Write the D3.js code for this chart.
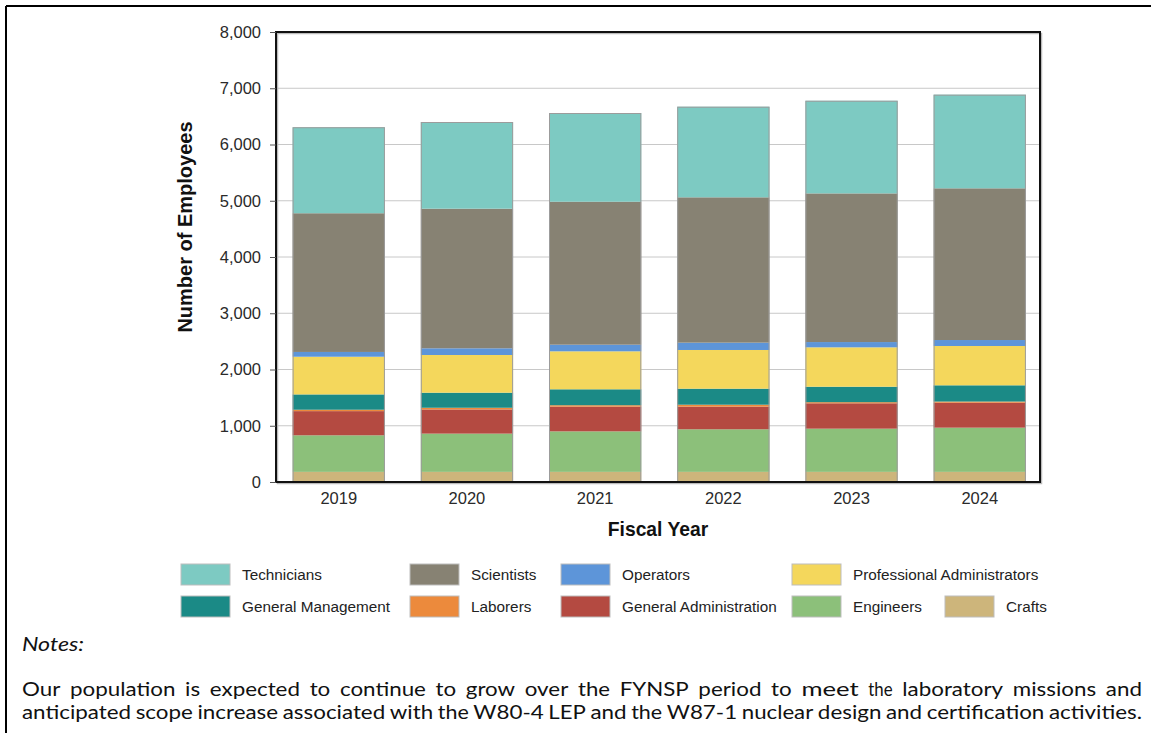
<!DOCTYPE html>
<html>
<head>
<meta charset="utf-8">
<script src="https://cdn.jsdelivr.net/npm/d3@7"></script>
<style>
  html, body { margin: 0; padding: 0; background: #fff; }
  svg { display: block; }
</style>
</head>
<body>
<svg id="chart" width="1151" height="733"></svg>
<script>
// ---- Data ----
const years = ["2019", "2020", "2021", "2022", "2023", "2024"];
const seriesNames = ["Crafts", "Engineers", "General Administration", "Laborers",
  "General Management", "Professional Administrators", "Operators", "Scientists", "Technicians"];
const crafts          = [180, 180, 180, 180, 180, 180];
const engineers       = [650, 680, 720, 757, 768, 786];
const generalAdmin    = [430, 430, 440, 402, 451, 444];
const laborers        = [25, 30, 25, 35, 20, 20];
const generalMgmt     = [272, 268, 283, 285, 275, 289];
const professionalAdm = [670, 670, 675, 688, 700, 699];
const operators       = [85, 119, 118, 130, 94, 106];
const scientists      = [2466, 2482, 2542, 2584, 2643, 2697];
const technicians     = [1529, 1541, 1577, 1611, 1647, 1665];
const yTicks = [0, 1000, 2000, 3000, 4000, 5000, 6000, 7000, 8000];
const legendRow1 = ["Technicians", "Scientists", "Operators", "Professional Administrators"];
const legendRow2 = ["General Management", "Laborers", "General Administration", "Engineers", "Crafts"];
const noteTitle = "Notes:";
const noteLines = [
  "Our population is expected to continue to grow over the FYNSP period to meet the laboratory missions and",
  "anticipated scope increase associated with the W80-4 LEP and the W87-1 nuclear design and certification activities."
];

const colors = {
  "Technicians": "#7dcac2",
  "Scientists": "#878273",
  "Operators": "#5d95d9",
  "Professional Administrators": "#f4d75c",
  "General Management": "#1b8a86",
  "Laborers": "#ec8a3c",
  "General Administration": "#b44a41",
  "Engineers": "#8cc07a",
  "Crafts": "#cdb57b"
};

(function () {
const seriesValues = [crafts, engineers, generalAdmin, laborers, generalMgmt,
  professionalAdm, operators, scientists, technicians];
const table = years.map((yr, i) => {
  const row = { year: yr };
  seriesNames.forEach((s, k) => row[s] = seriesValues[k][i]);
  return row;
});

const svg = d3.select("#chart");
const font = "'Liberation Sans', Arial, sans-serif";

// Outer page border (top & left)
svg.append("line").attr("x1", 6).attr("x2", 1151).attr("y1", 6).attr("y2", 6)
  .attr("stroke", "#000").attr("stroke-width", 2);
svg.append("line").attr("x1", 6).attr("x2", 6).attr("y1", 6).attr("y2", 733)
  .attr("stroke", "#000").attr("stroke-width", 2);

const L = 276, R = 1040, T = 32, B = 482;
const x = d3.scaleBand().domain(years).range([278.5, 1040]).paddingInner(0.28).paddingOuter(0.11);
const y = d3.scaleLinear().domain([0, 8000]).range([B, T]);

// Gridlines
svg.append("g").selectAll("line").data(yTicks.filter(d => d > 0 && d < 8000)).join("line")
  .attr("x1", L).attr("x2", R).attr("y1", d => y(d)).attr("y2", d => y(d))
  .attr("stroke", "#c8c8c8").attr("stroke-width", 1);

// Stacked bars
const stacked = d3.stack().keys(seriesNames)(table);
const gBars = svg.append("g");
stacked.forEach(layer => {
  gBars.append("g").attr("fill", colors[layer.key])
    .selectAll("rect").data(layer).join("rect")
    .attr("x", d => x(d.data.year))
    .attr("width", x.bandwidth())
    .attr("y", d => y(d[1]))
    .attr("height", d => y(d[0]) - y(d[1]));
});
// Bar outlines
const topLayer = stacked[stacked.length - 1];
gBars.append("g").selectAll("rect").data(topLayer).join("rect")
  .attr("x", d => x(d.data.year) + 0.5)
  .attr("width", x.bandwidth() - 1)
  .attr("y", d => y(d[1]) + 0.5)
  .attr("height", d => y(0) - y(d[1]) - 1)
  .attr("fill", "none").attr("stroke", "#9c9c9c").attr("stroke-width", 1);

// Plot frame with soft shadow
svg.append("rect").attr("x", L + 1.5).attr("y", T + 1.5).attr("width", R - L).attr("height", B - T)
  .attr("fill", "none").attr("stroke", "#bbb").attr("stroke-width", 1.5);
svg.append("rect").attr("x", L).attr("y", T).attr("width", R - L).attr("height", B - T)
  .attr("fill", "none").attr("stroke", "#111").attr("stroke-width", 2);

// Y axis
const yAxis = svg.append("g").attr("transform", `translate(${L},0)`)
  .call(d3.axisLeft(y).tickValues(yTicks).tickFormat(d3.format(",")).tickSize(6).tickPadding(9));
yAxis.select(".domain").remove();
yAxis.selectAll("line").attr("stroke", "#555");
yAxis.selectAll("text").attr("font-family", font).attr("font-size", 16.5).attr("fill", "#2a2a2a");

// X axis
const xAxis = svg.append("g").attr("transform", `translate(0,${B})`)
  .call(d3.axisBottom(x).tickSize(0).tickPadding(10));
xAxis.select(".domain").remove();
xAxis.selectAll("text").attr("font-family", font).attr("font-size", 16.5).attr("fill", "#2a2a2a");

// Axis titles
svg.append("text").attr("x", 658).attr("y", 536).attr("text-anchor", "middle")
  .attr("font-family", font).attr("font-weight", "bold").attr("font-size", 19.3).attr("fill", "#111")
  .text("Fiscal Year");
svg.append("text").attr("transform", "translate(192,227) rotate(-90)").attr("text-anchor", "middle")
  .attr("font-family", font).attr("font-weight", "bold").attr("font-size", 20).attr("fill", "#111")
  .text("Number of Employees");

// Legend
const legCols = [181, 410, 561, 792, 945];
const legRows = [{ y: 564, items: legendRow1 }, { y: 596, items: legendRow2 }];
const gLeg = svg.append("g");
legRows.forEach(row => {
  row.items.forEach((name, i) => {
    const lx = legCols[i];
    gLeg.append("rect").attr("x", lx).attr("y", row.y).attr("width", 49).attr("height", 21)
      .attr("fill", colors[name]).attr("stroke", "#bdbdbd").attr("stroke-width", 1);
    gLeg.append("text").attr("x", lx + 61).attr("y", row.y + 16)
      .attr("font-family", font).attr("font-size", 15.3).attr("fill", "#222").text(name);
  });
});

// Notes
const noteFont = "Lato, 'Open Sans', sans-serif";
svg.append("text").attr("x", 22).attr("y", 651)
  .attr("font-family", noteFont).attr("font-style", "italic").attr("font-size", 18.5).attr("fill", "#111")
  .attr("textLength", 62).attr("lengthAdjust", "spacingAndGlyphs")
  .text(noteTitle);

const lineLeft = 22, lineRight = 1142, avail = lineRight - lineLeft;
const baselines = [696, 719];
const lines = noteLines.map((line, li) => {
  const words = line.split(" ");
  const t = svg.append("text").attr("y", baselines[li])
    .attr("font-family", noteFont).attr("font-size", 18.5).attr("fill", "#111");
  const spans = words.map(w => t.append("tspan").text(w));
  const widths = spans.map(s => s.node().getComputedTextLength());
  return { spans, widths, total: d3.sum(widths), n: words.length };
});
// glyph scale chosen so that the last line fills the width with normal spacing
const last = lines[lines.length - 1];
const normalGap = 4.6;
const scale = (avail - normalGap * (last.n - 1)) / last.total;
lines.forEach(ln => {
  const gap = (avail - ln.total * scale) / (ln.n - 1);
  let cx = lineLeft;
  ln.spans.forEach((s, i) => {
    s.attr("x", cx).attr("textLength", ln.widths[i] * scale).attr("lengthAdjust", "spacingAndGlyphs");
    cx += ln.widths[i] * scale + gap;
  });
});
})();
</script>
</body>
</html>
